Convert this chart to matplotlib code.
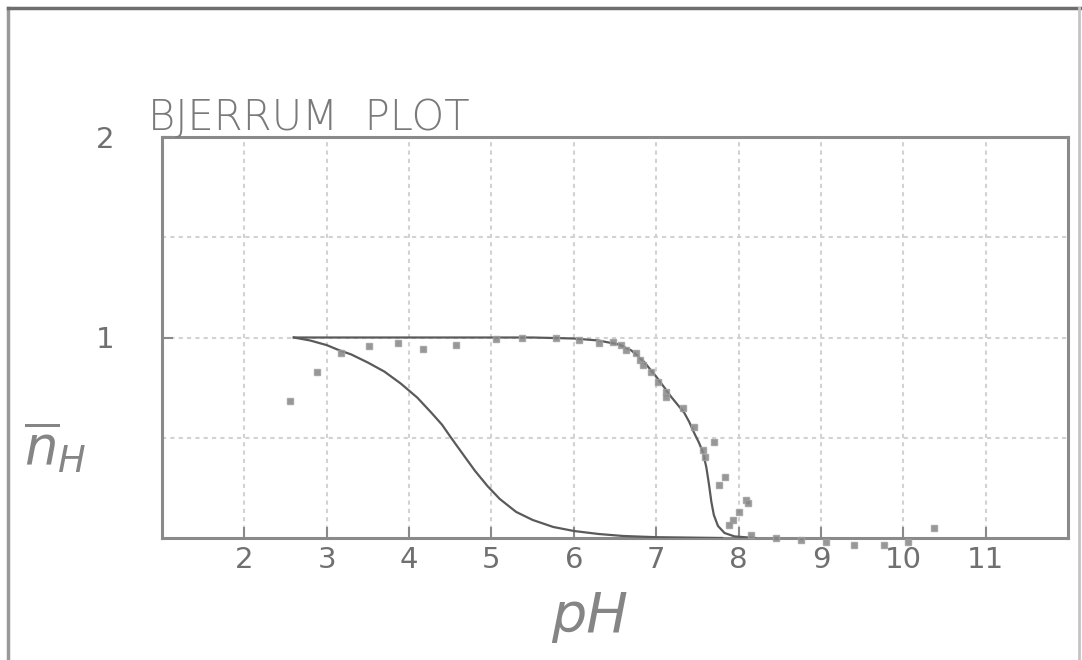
import matplotlib
matplotlib.use("Agg")
import matplotlib.pyplot as plt
from matplotlib.lines import Line2D

plt.rcParams['font.family'] = ['DejaVu Sans']
plt.rcParams['mathtext.fontset'] = 'dejavusans'

# fitted curve, high pK
fit_hi_ph = [2.6, 3.5, 4.5, 5.5, 6.0, 6.3, 6.55, 6.7, 6.85, 7.0, 7.1, 7.18,
             7.26, 7.34, 7.4, 7.46, 7.52, 7.57, 7.61, 7.64, 7.67, 7.7, 7.75,
             7.83, 7.95, 8.2]
fit_hi_n = [1.0, 1.0, 1.0, 1.0, 0.995, 0.985, 0.965, 0.935, 0.88, 0.805, 0.75,
            0.705, 0.665, 0.625, 0.58, 0.525, 0.475, 0.425, 0.35, 0.27, 0.18,
            0.115, 0.06, 0.025, 0.008, 0.0]

# fitted curve, low pK
fit_lo_ph = [2.6, 2.8, 3.0, 3.13, 3.3, 3.5, 3.7, 3.9, 4.1, 4.27, 4.4, 4.51,
             4.65, 4.8, 4.95, 5.1, 5.3, 5.5, 5.75, 6.0, 6.3, 6.6, 7.0, 7.8]
fit_lo_n = [1.0, 0.985, 0.962, 0.94, 0.915, 0.875, 0.83, 0.77, 0.7, 0.625,
            0.565, 0.5, 0.42, 0.335, 0.26, 0.195, 0.13, 0.09, 0.055, 0.035,
            0.02, 0.01, 0.004, 0.0]

# measured points
obs_ph = [2.56, 2.88, 3.17, 3.51, 3.87, 4.17, 4.57, 5.06, 5.37, 5.78, 6.06,
          6.3, 6.48, 6.57, 6.63, 6.76, 6.8, 6.84, 6.94, 7.02, 7.12, 7.12,
          7.33, 7.46, 7.7, 7.57, 7.59, 7.83, 7.76, 8.09, 8.11, 8.0, 7.93,
          7.88, 8.15, 8.45, 8.76, 9.06, 9.4, 9.76, 10.06, 10.37]
obs_n = [0.685, 0.83, 0.925, 0.96, 0.975, 0.945, 0.965, 0.995, 1.0, 1.0, 0.99,
         0.975, 0.98, 0.965, 0.94, 0.925, 0.89, 0.865, 0.83, 0.78, 0.73, 0.705,
         0.65, 0.555, 0.48, 0.44, 0.405, 0.305, 0.265, 0.19, 0.175, 0.13, 0.09,
         0.065, 0.015, 0.0, -0.01, -0.02, -0.035, -0.035, -0.02, 0.05]

x_ticks = [2, 3, 4, 5, 6, 7, 8, 9, 10, 11]
y_ticks = [1, 2]
y_grid = [0.5, 1.5]

grey = '#8a8a8a'
ink = '#5a5a5a'

fig = plt.figure(figsize=(10.82, 6.6), dpi=100)
ax = fig.add_axes([162 / 1082, 122 / 660, 906 / 1082, 401 / 660])

ax.plot(fit_hi_ph, fit_hi_n, color=ink, lw=1.6, zorder=3)
ax.plot(fit_lo_ph, fit_lo_n, color=ink, lw=1.6, zorder=3)
ax.plot(obs_ph, obs_n, ls='none', marker='s', ms=4.5, mfc='#858585',
        mec='#a0a0a0', mew=1, alpha=0.85, zorder=4, clip_on=False)

ax.set_xlim(1, 12)
ax.set_ylim(0, 2)
ax.set_xticks(x_ticks)
ax.set_yticks(y_ticks)
ax.set_yticks(y_grid, minor=True)
ax.grid(True, which='both', color='#d2d2d2', lw=1.5, ls=(0, (2, 2)))
ax.tick_params(axis='both', which='major', direction='in', length=8, width=1.5,
               color=grey, labelcolor='#707070', labelsize=21)
ax.tick_params(axis='x', pad=6)
ax.tick_params(axis='y', pad=34)
ax.tick_params(which='minor', length=0)
for sp in ax.spines.values():
    sp.set_color(grey)
    sp.set_linewidth(2.2)

ax.text(-0.016, 0.997, 'BJERRUM  PLOT', transform=ax.transAxes, ha='left',
        va='bottom', fontsize=30, color='#7a7a7a', fontweight='light')

ax.set_xlabel('pH', fontsize=40, style='italic', color='#858585')
ax.xaxis.set_label_coords(0.472, -0.13)
ax.set_ylabel(r'$\overline{n}_{H}$', fontsize=38, rotation=0, color='#858585',
              ha='center', va='center')
ax.yaxis.set_label_coords(-0.118, 0.227)

# outer frame of the scanned page
fig.add_artist(Line2D([8 / 1082, 8 / 1082], [0, 1 - 8 / 660], color='#999999',
                      lw=2.5, transform=fig.transFigure))
fig.add_artist(Line2D([8 / 1082, 1081 / 1082], [1 - 8 / 660, 1 - 8 / 660],
                      color='#6e6e6e', lw=2.5, transform=fig.transFigure))
fig.add_artist(Line2D([1079 / 1082, 1079 / 1082], [0, 1 - 8 / 660],
                      color='#c4c4c4', lw=2, transform=fig.transFigure))

fig.savefig('out.png', dpi=100)
